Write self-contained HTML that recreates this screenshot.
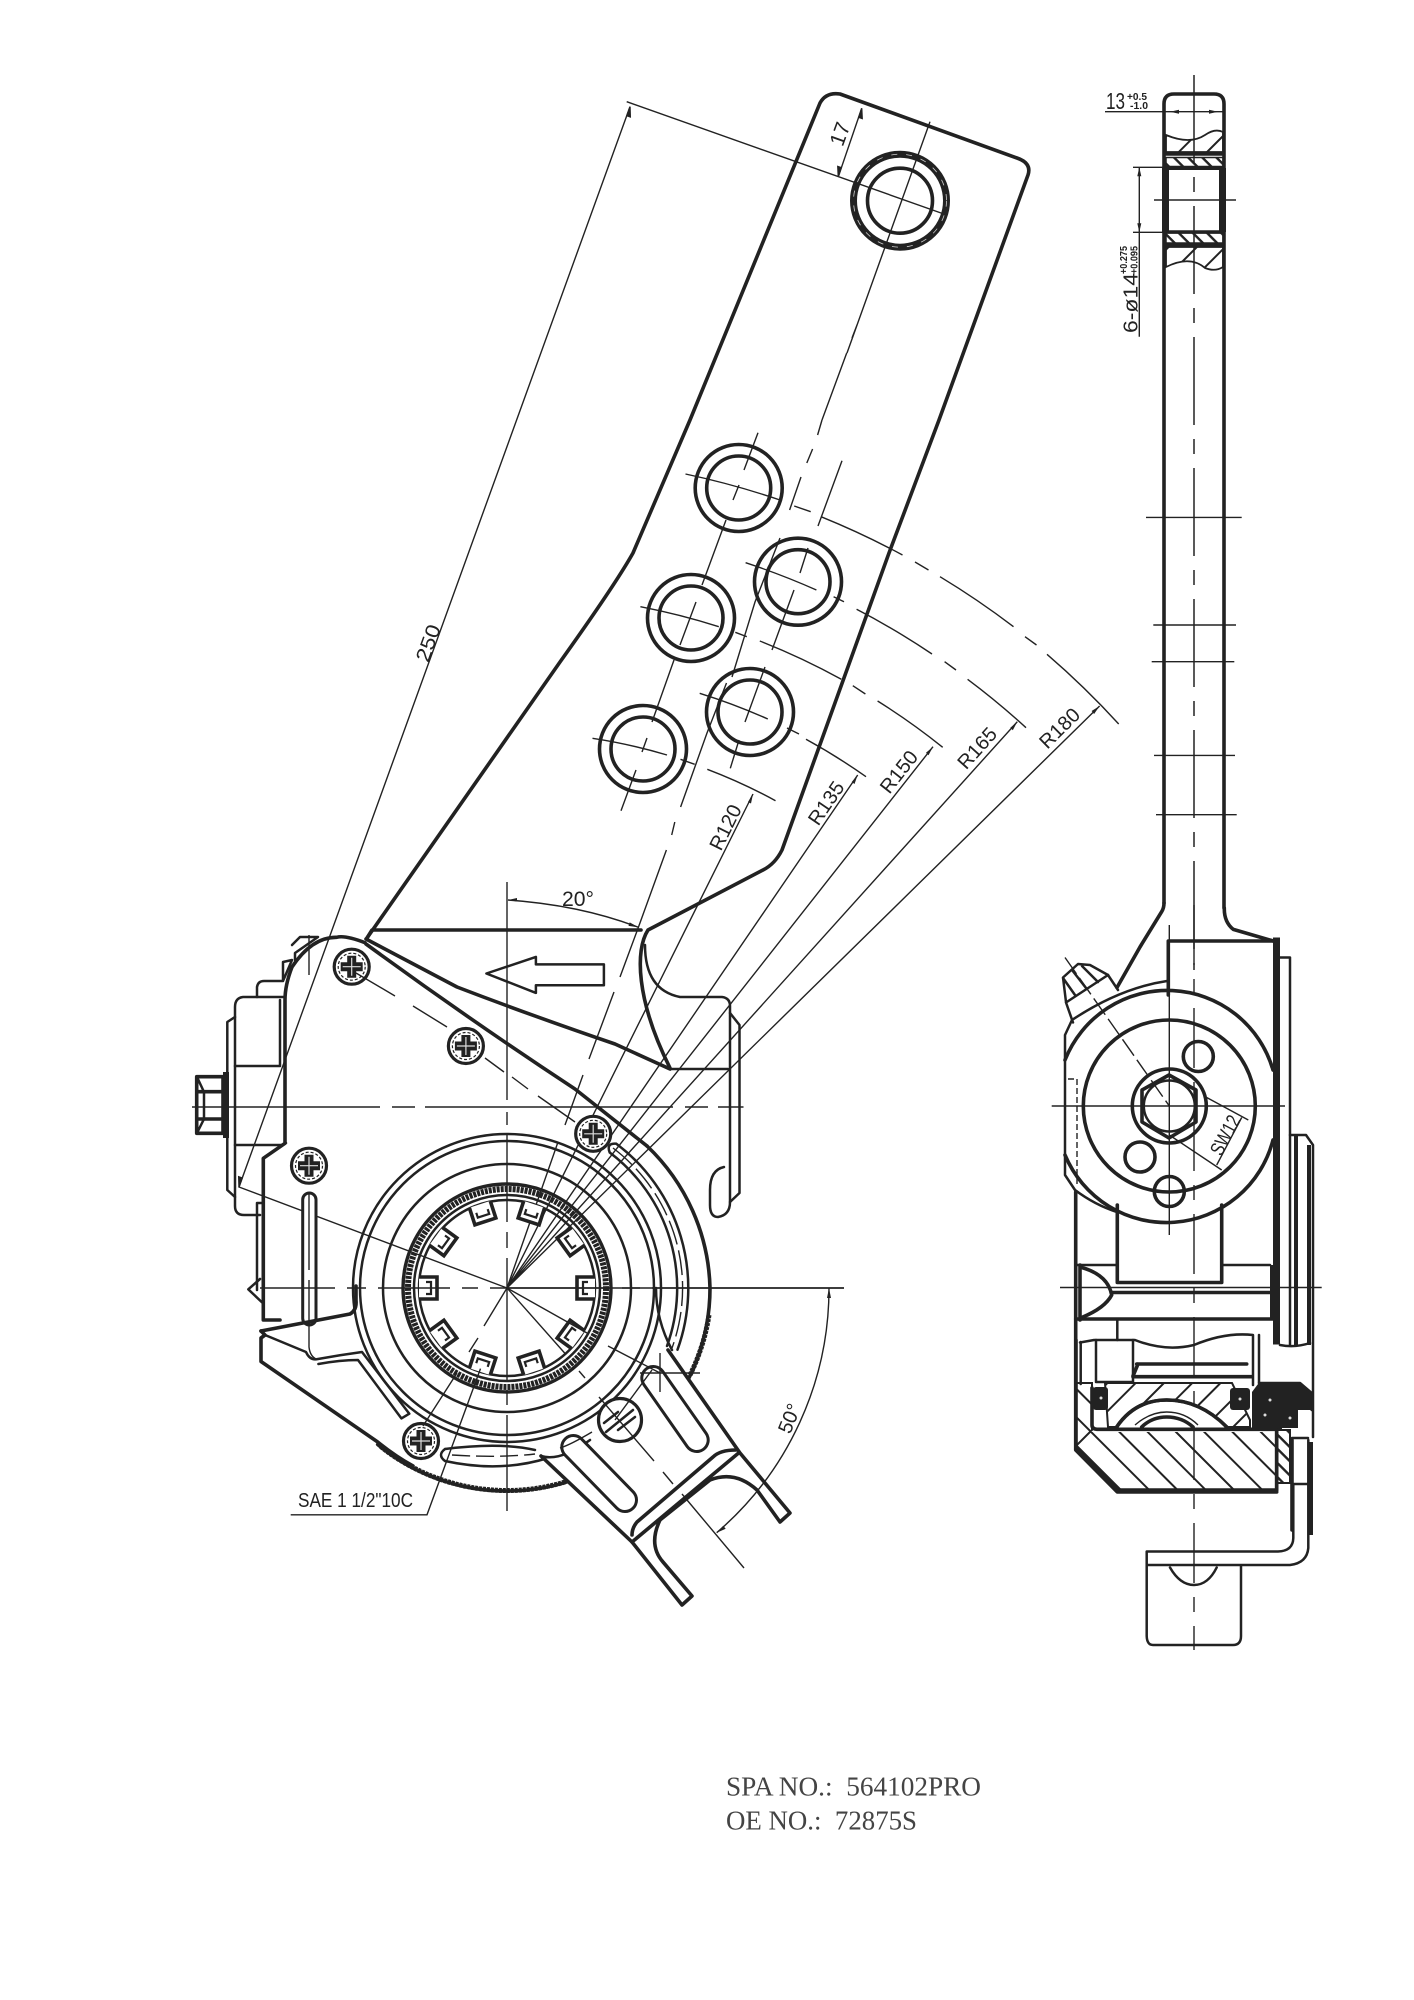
<!DOCTYPE html>
<html><head><meta charset="utf-8"><style>
html,body{margin:0;padding:0;background:#fff}
svg{display:block}
.t{fill:none;stroke:#222;stroke-width:3.6;stroke-linejoin:round;stroke-linecap:round}
.m{fill:none;stroke:#222;stroke-width:2.5;stroke-linecap:round;stroke-linejoin:round}
.n{fill:none;stroke:#222;stroke-width:1.4}
.c{fill:none;stroke:#222;stroke-width:1.5;stroke-dasharray:88 14 15 14}
.l{font-family:"Liberation Sans",sans-serif;fill:#222;text-anchor:middle}
</style></head><body>
<svg width="1414" height="2000" viewBox="0 0 1414 2000" xmlns="http://www.w3.org/2000/svg">
<defs>
<pattern id="h1" width="20" height="20" patternUnits="userSpaceOnUse" patternTransform="rotate(-45)"><rect width="20" height="2" fill="#222"/></pattern>
<pattern id="h2" width="20" height="20" patternUnits="userSpaceOnUse" patternTransform="rotate(45)"><rect width="20" height="2" fill="#222"/></pattern>
<pattern id="h3" width="10" height="10" patternUnits="userSpaceOnUse" patternTransform="rotate(45)"><rect width="10" height="2.4" fill="#222"/></pattern>
<g id="scr"><circle r="17.5" fill="#fff" stroke="#222" stroke-width="3.2"/><circle r="13.5" fill="none" stroke="#222" stroke-width="1.2" stroke-dasharray="3 2"/><path d="M-11 0H11M0-11V11" stroke="#222" stroke-width="9"/><path d="M-9 0H9M0-9V9" stroke="#ddd" stroke-width="1.2"/></g>
<g id="tooth"><rect x="576" y="1277" width="19" height="22" fill="#fff"/><path d="M595 1277H577V1299H595" fill="none" stroke="#222" stroke-width="3.6"/><path d="M588 1282H583V1294H588" fill="none" stroke="#222" stroke-width="2.2"/></g>
</defs>

<!-- lever arm -->
<path class="t" d="M367 938L560 662Q615 585 633 553L690 420L820 103Q826 92 840 94L1017 158Q1032 163 1028 175L939 420L889 553L782 850Q775 864 763 870L648 930C635 950 636 1000 670 1068"/>
<path class="t" d="M367 938L372 930H641"/>
<path class="m" d="M645 945Q645 990 680 997H722Q730 998 730 1006V1202Q730 1215 718 1217Q710 1217 710 1205V1190Q710 1170 724 1167"/>
<path class="m" d="M730 1013L739.5 1025V1193L730 1202M670 1069H728"/>
<!-- top hole -->
<circle cx="900" cy="200.700" r="46.500" fill="none" stroke="#222" stroke-width="7"/>
<circle cx="900" cy="200.700" r="46.500" fill="none" stroke="#ccc" stroke-width=".8" stroke-dasharray="6 9"/>
<circle cx="900" cy="200.700" r="32.500" class="t"/>
<!-- holes -->
<g class="t">
<circle cx="738.700" cy="488" r="43.500"/><circle cx="738.700" cy="488" r="32"/>
<circle cx="798" cy="581.700" r="43.500"/><circle cx="798" cy="581.700" r="32"/>
<circle cx="691" cy="618" r="43.500"/><circle cx="691" cy="618" r="32"/>
<circle cx="750" cy="712" r="43.500"/><circle cx="750" cy="712" r="32"/>
<circle cx="643" cy="749" r="43.500"/><circle cx="643" cy="749" r="32"/>
</g>
<!-- axes -->
<g class="n">
<path d="M930 121.700L847 353M852 338L857 325M846.700 353L822 420"/>
<path d="M822 420L817.600 435M812.600 449L806.800 463M801 477L789.600 510M780 538L755 602L732 677M726.500 683L707 733L680.600 807M674.800 822L671.700 835M666.400 850L638.500 927"/>
<path d="M638.500 927L620 977M614 992L589 1059M583 1075L565 1125M558 1142L507 1288" />
<path d="M758 432.700L744 470M739 485L733 500M726 520L702 585M696 602L680 645M674 660L652 722M647 738L642 752M636 770L621 810.700"/>
<path d="M842 460.700L818 526M808 548L800 573M794 590L772 650M765 667L745 722M739 740L730.300 768.300"/>
<!-- perpendicular + 250 dim -->
<path d="M626.700 101.700L946.700 215"/>
<path d="M630 106.700L239 1187L507 1288"/>
<path d="M861.700 108.300L838.300 176.700"/>
<path d="M861.700 108.300l-3 9 3.500 1.200zM838.300 176.700l3-9-3.500-1.200zM630 106.700l-3.200 9 3.500 1.200zM239 1187l3.200-9-3.500-1.200z" fill="#222"/>
<!-- radial hole arcs -->
<path d="M592.500 738.300A552 552 0 0 1 667 755M680.500 759.300L694.700 764.300"/>
<path d="M699.700 693.300A622 622 0 0 1 767.800 719M787 728L799 734"/>
<path d="M640.400 606.700A690 690 0 0 1 718.800 626.700M735.300 632.300L746.800 636.700"/>
<path d="M745.600 562.700A760 760 0 0 1 816.400 590M833.600 596.700L844 601.700"/>
<path d="M685.500 474A830 830 0 0 1 780 500M794.200 506L810.700 511.700"/>
<!-- R arcs -->
<path d="M707.300 769.300A552 552 0 0 1 775.500 800.700"/>
<path d="M806 739.300A622 622 0 0 1 866 776.700"/>
<path d="M759.800 641A690 690 0 0 1 841.300 679.300M852.800 685.700L865.400 694M877.600 701A690 690 0 0 1 942.700 747.300"/>
<path d="M856.600 609.300A760 760 0 0 1 932 654M944.600 661.700L956 670M967.600 679.300A760 760 0 0 1 1026 727.700"/>
<path d="M821 516.700A830 830 0 0 1 902.500 555M915 562L928.500 570M940 576.700A830 830 0 0 1 1013.500 626.700M1025 636.700L1036.500 645M1047 654.300A830 830 0 0 1 1118.700 724"/>
<!-- fan lines -->
<path d="M507 1288L753 794M507 1288L857.700 775M507 1288L933 746.700M507 1288L1017.300 721.700M507 1288L1099.600 706"/>
</g>
<path d="M753 794l-5 8 3 1.500zM857.700 775l-6 7 2.800 2zM933 746.700l-7 6 2.500 2.500zM1017.300 721.700l-7 6 2.500 2.500zM1099.600 706l-8 5 2.500 3z" fill="#222"/>

<!-- texts on lever -->
<text class="l" font-size="20" transform="translate(428 643) rotate(-70)" y="7" textLength="38" lengthAdjust="spacingAndGlyphs">250</text>
<text class="l" font-size="21" transform="translate(840 134) rotate(-70)" y="7">17</text>
<text class="l" font-size="20" transform="translate(725.300 827.300) rotate(-63.600)" y="7" textLength="48" lengthAdjust="spacingAndGlyphs">R120</text>
<text class="l" font-size="20" transform="translate(826 803) rotate(-55.600)" y="7" textLength="48" lengthAdjust="spacingAndGlyphs">R135</text>
<text class="l" font-size="20" transform="translate(898.700 771.700) rotate(-51.800)" y="7" textLength="48" lengthAdjust="spacingAndGlyphs">R150</text>
<text class="l" font-size="20" transform="translate(977 748) rotate(-48)" y="7" textLength="48" lengthAdjust="spacingAndGlyphs">R165</text>
<text class="l" font-size="20" transform="translate(1059.400 728) rotate(-44.500)" y="7" textLength="48" lengthAdjust="spacingAndGlyphs">R180</text>
<text class="l" font-size="21" x="578" y="906" textLength="32" lengthAdjust="spacingAndGlyphs">20°</text>
<path class="n" d="M508 900Q580 905 638.700 927.400"/>
<path d="M508 900l9-2v3.500zM638.700 927.400l-9-5-1.200 3.500z" fill="#222"/>

<!-- big arrow -->
<path class="m" stroke-width="2.6" d="M486.400 973.500L535.900 956.900V964.400H603.900V985.300H535.900V992.900Z"/>

<!-- strip curves -->
<path class="t" d="M366 939Q410 962 457 987Q530 1015 615 1044L670 1069"/>
<path class="t" d="M366 944Q470 1020 575 1089L647 1146"/>

<!-- left housing -->
<path class="t" d="M365 942.700Q345 935 336.700 937.300Q312 937 292 967Q285 985 285 1000V1143.300L263.300 1158.300V1320H280"/>
<path class="m" d="M283 997H243Q235 998 235 1007V1206Q235 1215 244 1215H260"/>
<path class="m" d="M235 1017L227.300 1022V1190L235 1197"/>
<path class="m" d="M235 1066H280V1000M235 1145H282L286 1143"/>
<path class="m" d="M257 997V987Q258 981 264 981H283L292 960L283 962V981"/>
<path class="m" d="M292 945L300 937H318L295 953V960"/>
<path class="t" stroke-width="3" d="M196.700 1076.700H223V1133.300H196.700ZM196.700 1091.700H223M196.700 1119H223"/>
<path class="m" d="M197 1077L204 1092V1119L197 1133"/>
<rect x="223" y="1072" width="6" height="66" fill="#222"/>
<path class="m" d="M257 1203H262M257 1203V1290"/>
<path class="m" d="M260 1279L248.300 1289.300L262.700 1303"/>
<rect x="302.700" y="1193" width="13.300" height="132" rx="6.600" fill="#fff" stroke="#222" stroke-width="3"/>

<!-- rings -->
<g class="m" stroke-width="3">
<circle cx="507" cy="1288" r="154"/>
<circle cx="507" cy="1288" r="147"/>
<circle cx="507" cy="1288" r="124"/>
<circle cx="507" cy="1288" r="104" stroke-width="3.4"/>
<circle cx="507" cy="1288" r="93"/>
<circle cx="507" cy="1288" r="88"/>
</g>
<circle cx="507" cy="1288" r="99" fill="none" stroke="#222" stroke-width="6" stroke-dasharray="3 1"/>
<use href="#tooth"/>
<use href="#tooth" transform="rotate(36 507 1288)"/>
<use href="#tooth" transform="rotate(72 507 1288)"/>
<use href="#tooth" transform="rotate(108 507 1288)"/>
<use href="#tooth" transform="rotate(144 507 1288)"/>
<use href="#tooth" transform="rotate(180 507 1288)"/>
<use href="#tooth" transform="rotate(216 507 1288)"/>
<use href="#tooth" transform="rotate(252 507 1288)"/>
<use href="#tooth" transform="rotate(288 507 1288)"/>
<use href="#tooth" transform="rotate(324 507 1288)"/>

<!-- outer arcs -->
<path class="t" d="M647 1146A203 203 0 0 1 710 1288A203 203 0 0 1 507 1491A203 203 0 0 1 377.700 1444.500"/>
<path fill="none" stroke="#222" stroke-width="5" stroke-dasharray="3 1" d="M709 1315A205 205 0 0 1 690 1375M565 1482A203 203 0 0 1 380 1446"/>
<path class="m" d="M616.300 1143.700A181 181 0 0 1 677.500 1349.700M609.700 1152.500A170 170 0 0 1 667 1346M616.300 1143.700Q606 1143 609.700 1152.500"/>
<path class="n" d="M613 1148A175.500 175.500 0 0 1 672 1348" stroke-dasharray="25 6"/>
<path class="m" d="M656 1288Q656 1320 672 1350"/>
<path class="m" d="M445 1449Q500 1442 535 1450M445 1461Q500 1473 548 1458M445 1449Q437 1455 445 1461"/>
<path class="n" d="M452 1455Q500 1458 535 1454" stroke-dasharray="18 6"/>

<!-- jaw -->
<path class="t" d="M261 1331L350 1314Q357 1310 356 1300V1286"/>
<path class="t" d="M261 1331L265 1335L261 1338V1361.500L377.700 1442Q395 1456 413 1466"/>
<path class="m" d="M265 1335L306 1352Q310 1361 318 1359Q340 1355 362 1352L409.300 1413.700L401.400 1418.400L358 1360Q340 1360 318.400 1364"/>

<!-- fork -->
<path fill="#fff" d="M668 1350L740 1453L790 1513L780 1522L757 1490Q735 1470 710 1480L660 1520Q648 1545 663 1562L692 1596L682 1605L632 1542L541 1456L590 1430L640 1390Z"/>
<path class="t" d="M668 1350L740 1453L790 1513L780 1522L757 1490Q735 1470 710 1480L660 1520Q648 1545 663 1562L692 1596L682 1605L632 1542L541 1456"/>
<path class="t" d="M632 1542L738.300 1453.300"/>
<path class="t" stroke-width="3" d="M632 1535Q632 1528 637 1522L713 1457Q720 1450 736 1450"/>
<path class="m" d="M541 1456Q560 1462 590 1440"/>
<line x1="653.300" y1="1378" x2="696.700" y2="1440" stroke="#222" stroke-width="26" stroke-linecap="round"/>
<line x1="653.300" y1="1378" x2="696.700" y2="1440" stroke="#fff" stroke-width="20" stroke-linecap="round"/>
<line x1="573.300" y1="1447" x2="625" y2="1500" stroke="#222" stroke-width="26" stroke-linecap="round"/>
<line x1="573.300" y1="1447" x2="625" y2="1500" stroke="#fff" stroke-width="20" stroke-linecap="round"/>
<circle cx="620" cy="1420" r="21.500" fill="#fff" stroke="#222" stroke-width="3.2"/>
<path class="m" d="M606 1432L633 1410M604 1423L618 1412M618 1430L635 1417"/>

<!-- screws -->
<use href="#scr" transform="translate(351.700 966.700)"/>
<use href="#scr" transform="translate(465.900 1046)"/>
<use href="#scr" transform="translate(593.200 1133.800)"/>
<use href="#scr" transform="translate(309 1165.700)"/>
<use href="#scr" transform="translate(421 1441)"/>

<!-- hub centre lines -->
<g class="n">
<path d="M192 1107H380M392 1107H415M425 1107H673M685 1107H708M718 1107H743.500"/>
<path d="M260 1288H335M347 1288H366M378 1288H450M462 1288H478M490 1288H610M622 1288H640M652 1288H844"/>
<path d="M507 882V1100M507 1112V1125M507 1135V1222M507 1232V1248M507 1258V1380M507 1390V1405M507 1415V1511"/>
<path d="M309 935V975M309 1194V1270M309 1280V1347Q310 1356 316 1359"/>
<path d="M356 973L395 996M413 1006L447 1027M485 1058L504 1072M512 1077L528 1089M538 1096L575 1122"/>
<path d="M507 1288L484 1326M478 1338L469 1352M457 1373L423 1426"/>
<path d="M507 1288L565.500 1354M579 1371L585 1378M599 1397L654 1461M663 1472L673 1484M682 1494L744 1568"/>
<path d="M507 1288L587 1333M608 1346L660 1373"/>
<path d="M640 1373H700M660 1353V1392"/>
<path d="M652 1370L615 1420"/>
<path d="M592 1432Q570 1445 560 1448"/>
<path d="M480.500 1368.600L427 1514.800H290.700"/>
<path d="M507 1288H844M829 1288A322 322 0 0 1 716.700 1532.700"/>
</g>
<path d="M829 1288l-2 10 4 0zM716.700 1532.700l9-4-2.500-3z" fill="#222"/>
<text class="l" font-size="20" transform="translate(789.300 1418.300) rotate(-68)" y="7" textLength="30" lengthAdjust="spacingAndGlyphs">50°</text>
<text font-family="'Liberation Sans',sans-serif" font-size="20" fill="#222" x="298" y="1507" textLength="115" lengthAdjust="spacingAndGlyphs">SAE 1 1/2"10C</text>

<!-- ==== right view ==== -->
<path class="t" d="M1164 903V104Q1164 94 1174 94H1214Q1224 94 1224 104V908"/>
<path class="t" d="M1224.300 908Q1224 922 1233.300 929.400L1273.300 941"/>
<path class="t" d="M1164 903Q1164 908 1161.700 911.600L1140 947L1117 987.500"/>
<path class="c" d="M1194 75V970" stroke-dasharray="88 14 15 14"/>
<g class="n">
<path d="M1146 517.400H1241.700M1153.300 625H1236M1151.700 661.700H1234.300M1154 755.400H1235M1156 814.700H1236.700"/>
<path d="M1154 200H1236M1105 111.700H1223"/>
<path d="M1133 167.300H1163M1133 232.300H1163M1139.300 167.300V336.700"/>
</g>
<path d="M1170 111.700l9-2v4zM1218 111.700l-9-2v4zM1139.300 167.300l-2 9h4zM1139.300 232.300l-2-9h4z" fill="#222"/>
<text font-family="'Liberation Sans',sans-serif" font-size="23" fill="#222" x="1106" y="109" textLength="19" lengthAdjust="spacingAndGlyphs">13</text>
<text font-family="'Liberation Sans',sans-serif" font-size="10.500" font-weight="bold" fill="#222" x="1127" y="100" textLength="20" lengthAdjust="spacingAndGlyphs">+0.5</text>
<text font-family="'Liberation Sans',sans-serif" font-size="10.500" font-weight="bold" fill="#222" x="1130" y="109" textLength="18" lengthAdjust="spacingAndGlyphs">-1.0</text>
<text font-family="'Liberation Sans',sans-serif" font-size="20" fill="#222" transform="translate(1137.500 333) rotate(-90)" textLength="60" lengthAdjust="spacingAndGlyphs">6-ø14</text>
<text font-family="'Liberation Sans',sans-serif" font-size="10" font-weight="bold" fill="#222" transform="translate(1127 274) rotate(-90)" textLength="28" lengthAdjust="spacingAndGlyphs">+0.275</text>
<text font-family="'Liberation Sans',sans-serif" font-size="10" font-weight="bold" fill="#222" transform="translate(1137.500 274) rotate(-90)" textLength="28" lengthAdjust="spacingAndGlyphs">+0.095</text>
<!-- top section -->
<path d="M1166 135Q1190 145 1205 135Q1215 128 1223 132V152H1166Z" fill="url(#h1)" stroke="#222" stroke-width="1.8"/>
<path d="M1166 267Q1190 255 1205 268Q1215 272 1223 267V247H1166Z" fill="url(#h1)" stroke="#222" stroke-width="1.800"/>
<rect x="1166" y="157.500" width="57" height="9" fill="url(#h3)" stroke="#222" stroke-width="1.500"/>
<rect x="1166" y="233" width="57" height="10" fill="url(#h3)" stroke="#222" stroke-width="1.500"/>
<path d="M1164 168.300H1224M1164 232H1224M1164 245H1224M1164 154H1224" stroke="#222" stroke-width="3.500" fill="none"/>
<rect x="1162" y="168" width="7" height="64" fill="#222"/><rect x="1219" y="168" width="7" height="64" fill="#222"/>

<!-- housing right -->
<path class="t" d="M1168.300 995V941H1273"/>
<rect x="1273" y="937.500" width="7" height="407" fill="#222"/>
<path class="m" d="M1280 957.500H1290V1345"/>
<path class="m" d="M1290 1135H1306L1313 1145V1437"/>
<rect x="1294" y="1135" width="4" height="210" fill="#222"/>
<rect x="1307" y="1145" width="4" height="200" fill="#222"/>
<rect x="1308" y="1442" width="5" height="93" fill="#222"/>
<path class="m" d="M1280 1345Q1295 1348 1310 1343"/>
<!-- cylinder -->
<path class="t" d="M1065 1060A110 110 0 0 1 1273 1070M1273 1140A110 110 0 0 1 1065 1155"/>
<path class="m" d="M1065 1035V1175L1075 1190Q1095 1205 1117 1212M1065 1035L1072 1020Q1120 988 1167 981"/>
<circle cx="1169.300" cy="1106" r="86" class="t" stroke-width="3"/>
<circle cx="1169.300" cy="1106" r="37" class="t"/>
<path class="t" d="M1169 1075L1196 1090V1122L1169 1138L1142 1122V1090Z"/>
<circle cx="1169.300" cy="1106" r="25.500" class="m"/>
<circle cx="1198.300" cy="1056.500" r="15" fill="#fff" class="t"/>
<circle cx="1140" cy="1157" r="15" fill="#fff" class="t"/>
<circle cx="1169.300" cy="1191.500" r="15" fill="#fff" class="t"/>
<g class="n">
<path d="M1051.700 1106H1285M1169.300 925V1235"/>
<path d="M1065 957.500L1169.300 1106" stroke-dasharray="20 5"/>
<path d="M1169.300 1135L1221.700 1170M1206.700 1097.500L1248.300 1120M1241.700 1117.500L1216.700 1165"/>
<path d="M1068 1079H1077V1185" stroke-dasharray="6 3"/>
<path d="M1194 905V1650" stroke-dasharray="60 14 15 14"/>
</g>
<text class="l" font-size="20" transform="translate(1225 1135) rotate(-62)" y="7" textLength="42" lengthAdjust="spacingAndGlyphs">SW12</text>
<!-- grease fitting -->
<path class="m" d="M1073 1022.500L1066 1002.500L1108 975L1118 990"/>
<path class="m" d="M1066 1002L1063 977.500L1078 964L1090 965L1108 975M1075 995L1063 978M1086 988L1072 970M1098 982L1082 966"/>
<!-- mid -->
<path class="t" d="M1117.300 1205V1282.500H1221.700V1205"/>
<path class="t" d="M1075.700 1192V1450L1117.300 1492H1276.700"/>
<path class="m" d="M1075.700 1265H1117.300M1221.700 1265H1270"/>
<path class="t" d="M1081.700 1267.500Q1108 1275 1111.700 1295Q1105 1308 1081.700 1317.500"/>
<path class="t" d="M1080 1265V1320"/>
<rect x="1270" y="1265" width="5" height="54" fill="#222"/>
<path class="t" d="M1111.700 1292.500H1270M1075.700 1319H1273"/>
<path class="n" d="M1060 1287.500H1321.700"/>
<path class="m" d="M1117.300 1320V1340"/>
<path class="m" d="M1080 1342.500L1094 1340H1135Q1165 1352 1194 1345Q1225 1332 1253 1335V1385M1259 1335V1383"/>
<path class="m" d="M1080.700 1342V1384M1096 1340V1382H1133V1340"/>
<path class="t" d="M1136.700 1364H1246.700M1133 1376.700H1251.700M1133 1376L1138 1364"/>
<!-- lower section -->
<path d="M1076 1383H1092V1430L1076 1446Z" fill="url(#h2)" stroke="#222" stroke-width="2"/>
<path d="M1105 1383H1232L1250 1420V1427H1226.700Q1200 1400 1166.700 1400Q1135 1400 1116.700 1427H1108Z" fill="url(#h1)" stroke="#222" stroke-width="2"/>
<path d="M1076 1432H1276V1490H1117.300L1076 1448Z" fill="url(#h2)"/>
<path class="t" d="M1076 1340V1448L1117.300 1490H1276.700V1430"/>
<path class="t" d="M1092 1388V1425Q1092 1429 1097 1429.300H1276.700"/>
<path class="t" d="M1116.700 1427Q1135 1400 1166.700 1400Q1200 1400 1226.700 1427"/>
<path fill="#fff" d="M1118 1427Q1137 1402 1166.700 1402Q1198 1402 1225 1427Z"/>
<path class="t" d="M1116.700 1427Q1135 1400 1166.700 1400Q1200 1400 1226.700 1427"/>
<path class="t" stroke-width="3.500" d="M1141.700 1427Q1152 1417 1166.700 1417Q1182 1417 1193 1427"/>
<path class="n" d="M1135 1425Q1150 1412 1166.700 1412Q1185 1412 1198 1425"/>
<rect x="1093" y="1387" width="15" height="23" rx="3" fill="#222"/>
<rect x="1230" y="1388" width="20" height="22" rx="3" fill="#222"/>
<path d="M1252 1392L1258 1384H1300L1311 1393V1410H1298V1428H1282V1430H1252Z" fill="#222"/>
<path class="m" d="M1259 1383H1300L1311.700 1393V1410"/>
<circle cx="1240" cy="1399" r="1.500" fill="#ddd"/><circle cx="1270" cy="1400" r="1.500" fill="#ddd"/><circle cx="1265" cy="1415" r="1.500" fill="#ddd"/><circle cx="1290" cy="1418" r="1.500" fill="#ddd"/><circle cx="1101" cy="1398" r="1.500" fill="#ddd"/>
<path d="M1277 1430H1290V1483H1277Z" fill="url(#h3)" stroke="#222" stroke-width="2"/>
<path class="t" d="M1276.700 1430V1490"/>
<path class="m" d="M1292 1438H1308M1292 1484H1308"/>
<path class="t" d="M1292 1440V1530"/>
<path class="m" d="M1146.700 1551.500H1278Q1293 1551 1293.300 1538V1485M1146.700 1551.500V1636Q1147 1645 1153 1645H1233Q1241 1645 1241 1636V1565M1146.700 1565H1290Q1307 1563 1308.300 1548V1440"/>
<path class="m" d="M1170 1567.500Q1180 1585 1194 1585Q1208 1585 1216.700 1567.500"/>

<text font-family="'Liberation Serif',serif" font-size="27" fill="#444" x="726" y="1795.700" textLength="255" lengthAdjust="spacingAndGlyphs">SPA NO.:&#160;&#160;564102PRO</text>
<text font-family="'Liberation Serif',serif" font-size="27" fill="#444" x="726" y="1829.300" textLength="191" lengthAdjust="spacingAndGlyphs">OE NO.:&#160;&#160;72875S</text>
</svg>
</body></html>
